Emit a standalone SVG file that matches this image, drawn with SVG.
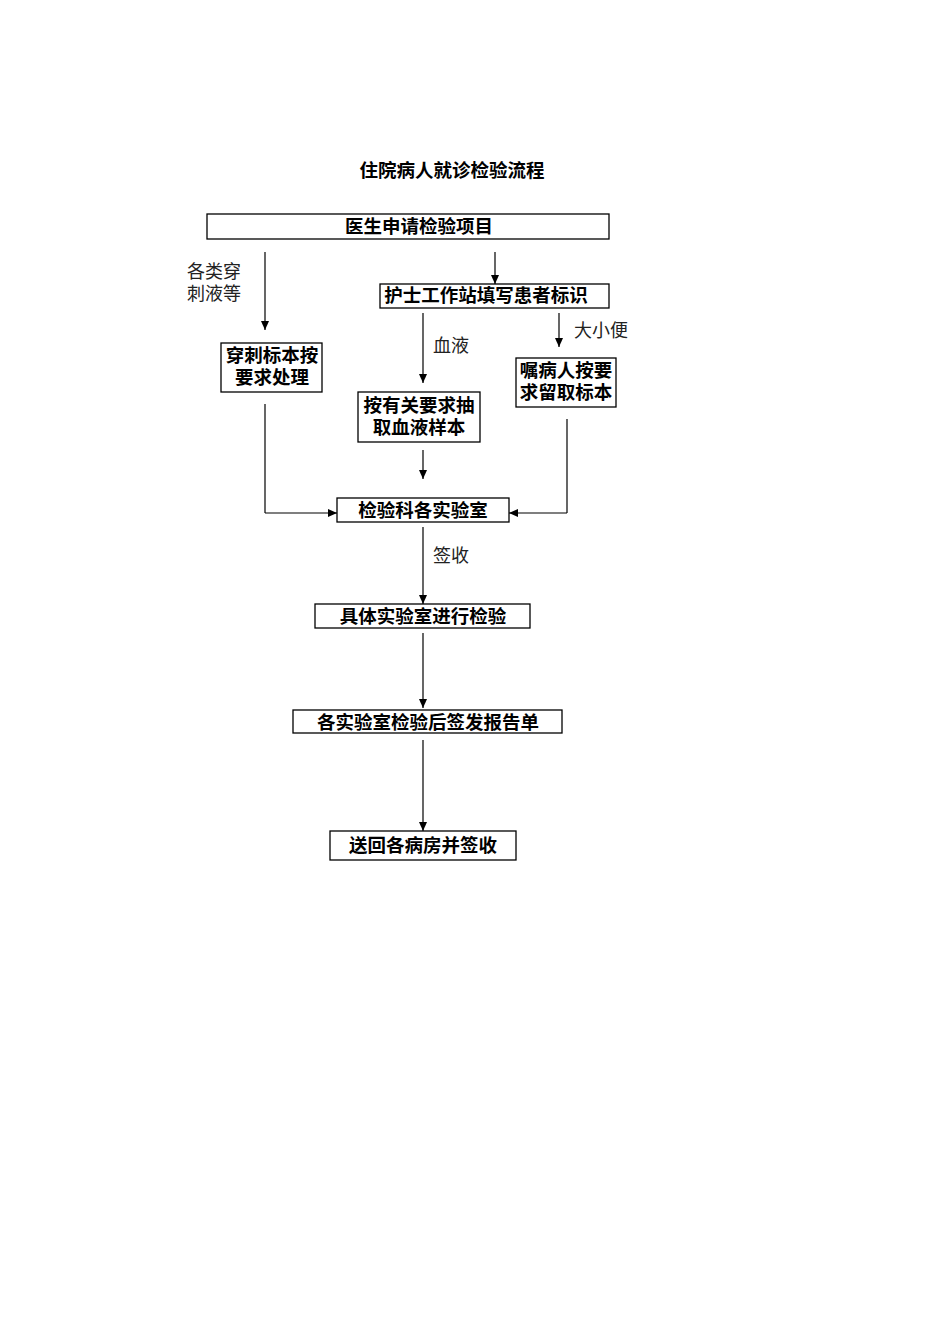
<svg xmlns="http://www.w3.org/2000/svg" width="950" height="1344" viewBox="0 0 950 1344">
<style>
.b{fill:#fff;stroke:#000;stroke-width:1.3}
.t{font-family:"Noto Sans CJK SC",sans-serif;font-weight:bold;font-size:18.5px;text-anchor:middle}
.l{font-family:"Noto Sans CJK SC",sans-serif;font-size:18px;fill:#222}
.c{stroke:#000;stroke-width:1.2;fill:none}
</style>
<defs><marker id="a" markerWidth="10" markerHeight="10" refX="9" refY="5" orient="auto" markerUnits="userSpaceOnUse"><path d="M0,1 L9,5 L0,9 z" fill="#000"/></marker></defs>
<rect width="950" height="1344" fill="#fff"/>
<text class="t" x="452" y="177">住院病人就诊检验流程</text>
<g id="connectors">
<line class="c" x1="265" y1="252" x2="265" y2="330" marker-end="url(#a)"/>
<line class="c" x1="495" y1="252" x2="495" y2="284" marker-end="url(#a)"/>
<line class="c" x1="423" y1="313" x2="423" y2="383" marker-end="url(#a)"/>
<line class="c" x1="559" y1="313" x2="559" y2="347" marker-end="url(#a)"/>
<line class="c" x1="423" y1="450" x2="423" y2="479" marker-end="url(#a)"/>
<polyline class="c" points="265,404 265,513" />
<line class="c" x1="265" y1="513" x2="337" y2="513" marker-end="url(#a)"/>
<polyline class="c" points="567,419 567,513"/>
<line class="c" x1="567" y1="513" x2="509" y2="513" marker-end="url(#a)"/>
<line class="c" x1="423" y1="527" x2="423" y2="604" marker-end="url(#a)"/>
<line class="c" x1="423" y1="633" x2="423" y2="708" marker-end="url(#a)"/>
<line class="c" x1="423" y1="740" x2="423" y2="831" marker-end="url(#a)"/>
<text class="l" x="187" y="278">各类穿</text>
<text class="l" x="187" y="300">刺液等</text>
<text class="l" x="433" y="352">血液</text>
<text class="l" x="574" y="337">大小便</text>
<text class="l" x="433" y="562">签收</text>
</g>
<g id="n1"><rect class="b" x="207" y="214" width="402" height="25"/><text class="t" x="419" y="233">医生申请检验项目</text></g>
<g id="n2"><rect class="b" x="380" y="284" width="229" height="24"/><text class="t" x="486" y="302">护士工作站填写患者标识</text></g>
<g id="n3"><rect class="b" x="221" y="343" width="101" height="49"/><text class="t" x="272" y="362">穿刺标本按</text><text class="t" x="272" y="384">要求处理</text></g>
<g id="n4"><rect class="b" x="358" y="392" width="122" height="50"/><text class="t" x="419" y="412">按有关要求抽</text><text class="t" x="419" y="434">取血液样本</text></g>
<g id="n5"><rect class="b" x="516" y="358" width="100" height="49"/><text class="t" x="566" y="377">嘱病人按要</text><text class="t" x="566" y="399">求留取标本</text></g>
<g id="n6"><rect class="b" x="337" y="498" width="172" height="24"/><text class="t" x="423" y="517">检验科各实验室</text></g>
<g id="n7"><rect class="b" x="315" y="604" width="215" height="24"/><text class="t" x="423" y="623">具体实验室进行检验</text></g>
<g id="n8"><rect class="b" x="293" y="710" width="269" height="23"/><text class="t" x="428" y="729">各实验室检验后签发报告单</text></g>
<g id="n9"><rect class="b" x="330" y="831" width="186" height="29"/><text class="t" x="423" y="852">送回各病房并签收</text></g>
</svg>
